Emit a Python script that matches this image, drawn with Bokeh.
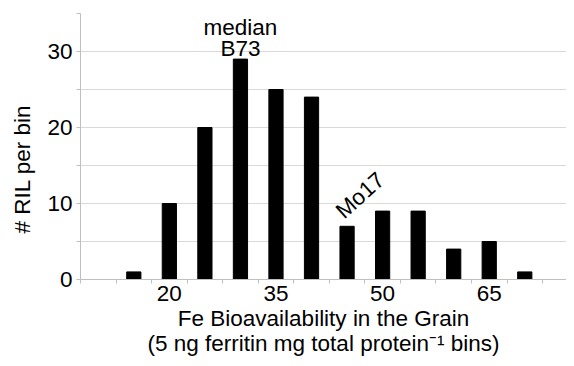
from bokeh.plotting import figure
from bokeh.models import FixedTicker, Range1d, Label, Title
from bokeh.embed import file_html
from bokeh.resources import INLINE

# ---- data ----
bins = [10, 15, 20, 25, 30, 35, 40, 45, 50, 55, 60, 65, 70]
counts = [0, 1, 10, 20, 29, 25, 24, 7, 9, 9, 4, 5, 1]
x_tick_values = [20, 35, 50, 65]
y_tick_values = [0, 10, 20, 30]
y_minor_values = [5, 15, 25, 35]
median_bin = 30
mo17_bin = 45
x_title = "Fe Bioavailability in the Grain"
x_subtitle = "(5 ng ferritin mg total protein\u207b\u00b9 bins)"
y_title = "# RIL per bin"

FONT = "Liberation Sans"
FS = "22.5px"
GRID = "#d9d9d9"
AXIS = "#bfbfbf"

bin_w = bins[1] - bins[0]
bounds = [b - bin_w / 2 for b in bins] + [bins[-1] + bin_w / 2]

p = figure(width=566, height=358, output_backend="svg", toolbar_location=None,
           x_range=Range1d(bins[0] - bin_w / 2, 75.87), y_range=Range1d(0, 35),
           min_border_left=80, min_border_right=0, min_border_top=13,
           min_border_bottom=73)
p.outline_line_color = None
p.background_fill_color = "white"

p.vbar(x=bins, top=counts, width=2.0, fill_color="black", line_color="black")

# x axis
p.xaxis.ticker = FixedTicker(ticks=x_tick_values, minor_ticks=bounds)
p.xaxis.major_tick_line_color = None
p.xaxis.major_tick_in = 0
p.xaxis.major_tick_out = 0
p.xaxis.minor_tick_in = 0
p.xaxis.minor_tick_out = 4
p.xaxis.minor_tick_line_color = AXIS
p.xaxis.axis_line_color = AXIS
p.xaxis.major_label_standoff = 2
p.xaxis.major_label_text_font = FONT
p.xaxis.major_label_text_font_size = FS
p.xaxis.major_label_text_color = "black"
p.xaxis.axis_label = x_title + "\n" + x_subtitle
p.xaxis.axis_label_text_font = FONT
p.xaxis.axis_label_text_font_size = FS
p.xaxis.axis_label_text_font_style = "normal"
p.xaxis.axis_label_text_color = "black"
p.xaxis.axis_label_text_line_height = 1.0
p.xaxis.axis_label_standoff = 2
p.xgrid.grid_line_color = None

# y axis
p.yaxis.ticker = FixedTicker(ticks=y_tick_values, minor_ticks=y_minor_values)
p.yaxis.major_tick_in = 0
p.yaxis.major_tick_out = 4
p.yaxis.minor_tick_in = 0
p.yaxis.minor_tick_out = 4
p.yaxis.major_tick_line_color = AXIS
p.yaxis.minor_tick_line_color = AXIS
p.yaxis.axis_line_color = AXIS
p.yaxis.major_label_standoff = 4
p.yaxis.major_label_text_font = FONT
p.yaxis.major_label_text_font_size = FS
p.yaxis.major_label_text_color = "black"
p.ygrid.grid_line_color = GRID
p.ygrid.minor_grid_line_color = GRID

p.add_layout(Title(text=y_title, align="left", offset=46, vertical_align="top",
                   standoff=16, text_font=FONT, text_font_size=FS,
                   text_font_style="normal", text_color="black"), "left")

med_count = counts[bins.index(median_bin)]
mo_count = counts[bins.index(mo17_bin)]

common = dict(text_font=FONT, text_font_size=FS, text_color="black")
p.add_layout(Label(x=median_bin, y=med_count, y_offset=32, text="median",
                   text_align="center", text_baseline="middle", **common))
p.add_layout(Label(x=median_bin, y=med_count, y_offset=11, text="B73",
                   text_align="center", text_baseline="middle", **common))
p.add_layout(Label(x=mo17_bin, y=mo_count, x_offset=13, y_offset=31, text="Mo17",
                   angle=42, angle_units="deg",
                   text_align="center", text_baseline="middle", **common))

open("out.html", "w").write(file_html(p, INLINE))
